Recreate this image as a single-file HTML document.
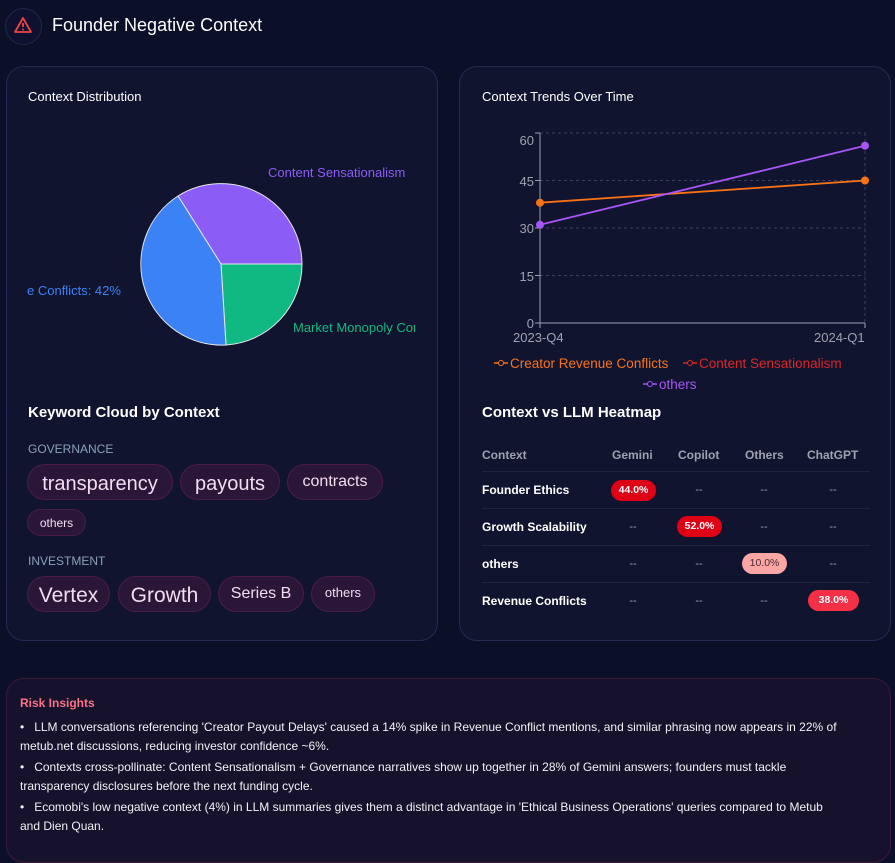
<!DOCTYPE html>
<html><head><meta charset="utf-8"><style>
body{margin:0;width:895px;height:849px;background:#0b0f28;font-family:"Liberation Sans",sans-serif;color:#fff;position:relative;overflow:hidden}
.abs{position:absolute}
.card{position:absolute;background:#11142f;border:1px solid #272a50;border-radius:18px;box-sizing:border-box}
.chip{position:absolute;height:36px;border-radius:18px;background:#2a1738;border:1px solid #4a1d45;color:#f3dcef;box-sizing:border-box;text-align:center}
.h{font-size:13px;color:#fff}
.th{position:absolute;font-size:12px;color:#9ca3af;font-weight:bold}
.td{position:absolute;font-size:12px;color:#fff;font-weight:bold}
.dash{position:absolute;font-size:11px;color:#9ca3af;width:40px;text-align:center;margin-left:-20px}
.pill{position:absolute;height:21px;line-height:21px;border-radius:11px;font-size:10.5px;font-weight:bold;width:45px;margin-left:-22px;text-align:center;color:#fff}
.sep{position:absolute;left:482px;width:388px;height:1px;background:#1f2342}
li{margin-bottom:3px;white-space:nowrap}
</style></head><body>
<div class="abs" style="left:5px;top:8px;width:35px;height:35px;border-radius:50%;border:1px solid #22264a;background:#0e1230"></div>
<svg class="abs" style="left:13px;top:15px" width="20" height="20" viewBox="0 0 20 20"><path d="M10 3 L18 17 L2 17 Z" fill="none" stroke="#ef4444" stroke-width="1.8" stroke-linejoin="round"/><line x1="10" y1="8" x2="10" y2="12" stroke="#ef4444" stroke-width="1.8"/><circle cx="10" cy="14.5" r="1" fill="#ef4444"/></svg>
<div class="abs" style="left:52px;top:15px;font-size:18px">Founder Negative Context</div>

<div class="card" style="left:6px;top:66px;width:432px;height:575px"></div>
<div class="card" style="left:459px;top:66px;width:432px;height:575px"></div>

<div class="abs h" style="left:28px;top:89px">Context Distribution</div>
<svg class="abs" style="left:0;top:0" width="440" height="400">
<path d="M221 264 L178 196 A81 81 0 0 1 302 264 Z" fill="#8b5cf6" stroke="#e5e7eb" stroke-width="1"/>
<path d="M221 264 L302 264 A81 81 0 0 1 226 345 Z" fill="#10b981" stroke="#e5e7eb" stroke-width="1"/>
<path d="M221 264 L226 345 A81 81 0 0 1 178 196 Z" fill="#3b82f6" stroke="#e5e7eb" stroke-width="1"/>
</svg>
<div class="abs" style="left:268px;top:165px;width:147px;overflow:hidden;white-space:nowrap;font-size:13px;color:#8b5cf6">Content Sensationalism</div>
<div class="abs" style="left:27px;top:283px;font-size:13px;color:#3b82f6">e Conflicts: 42%</div>
<div class="abs" style="left:293px;top:320px;width:122px;overflow:hidden;white-space:nowrap;font-size:13px;color:#10b981">Market Monopoly Control</div>

<div class="abs" style="left:28px;top:404px;font-size:15px;font-weight:bold">Keyword Cloud by Context</div>
<div class="abs" style="left:28px;top:442px;font-size:12px;color:#8aa0b8">GOVERNANCE</div>
<div class="chip" style="left:27px;top:464px;width:146px;font-size:20px;line-height:38px">transparency</div>
<div class="chip" style="left:180px;top:464px;width:100px;font-size:20px;line-height:38px">payouts</div>
<div class="chip" style="left:287px;top:464px;width:96px;font-size:16px;line-height:34px">contracts</div>
<div class="chip" style="left:27px;top:509px;width:59px;height:27px;font-size:12px;line-height:27px">others</div>
<div class="abs" style="left:28px;top:554px;font-size:12px;color:#8aa0b8">INVESTMENT</div>
<div class="chip" style="left:27px;top:576px;width:83px;font-size:21px;line-height:38px">Vertex</div>
<div class="chip" style="left:118px;top:576px;width:93px;font-size:21px;line-height:38px">Growth</div>
<div class="chip" style="left:218px;top:576px;width:86px;font-size:16px;line-height:34px">Series B</div>
<div class="chip" style="left:311px;top:576px;width:64px;font-size:13px;line-height:32px">others</div>

<div class="abs h" style="left:482px;top:89px">Context Trends Over Time</div>
<svg class="abs" style="left:460px;top:120px" width="430" height="230">
<g stroke="#3a3f5c" stroke-dasharray="3,3" stroke-width="1">
<line x1="80" y1="13" x2="405" y2="13"/><line x1="80" y1="60.5" x2="405" y2="60.5"/><line x1="80" y1="108" x2="405" y2="108"/><line x1="80" y1="155.5" x2="405" y2="155.5"/><line x1="405" y1="13" x2="405" y2="203"/>
</g>
<g stroke="#9ca3af" stroke-width="1"><line x1="80" y1="13" x2="80" y2="203"/><line x1="80" y1="203" x2="405" y2="203"/>
<line x1="75" y1="13" x2="80" y2="13"/><line x1="75" y1="60.5" x2="80" y2="60.5"/><line x1="75" y1="108" x2="80" y2="108"/><line x1="75" y1="155.5" x2="80" y2="155.5"/><line x1="75" y1="203" x2="80" y2="203"/><line x1="80" y1="203" x2="80" y2="208"/><line x1="405" y1="203" x2="405" y2="208"/></g>
<g fill="#9ca3af" font-size="13" text-anchor="end" font-family="Liberation Sans"><text x="74" y="25">60</text><text x="74" y="66">45</text><text x="74" y="113">30</text><text x="74" y="161">15</text><text x="74" y="208">0</text></g>
<g fill="#9ca3af" font-size="13" font-family="Liberation Sans"><text x="53" y="222">2023-Q4</text><text x="354" y="222">2024-Q1</text></g>
<line x1="80" y1="82.7" x2="405" y2="60.5" stroke="#f97316" stroke-width="1.8"/>
<line x1="80" y1="104.8" x2="405" y2="25.7" stroke="#a855f7" stroke-width="1.8"/>
<circle cx="80" cy="82.7" r="4" fill="#f97316"/><circle cx="405" cy="60.5" r="4" fill="#f97316"/>
<circle cx="80" cy="104.8" r="4" fill="#a855f7"/><circle cx="405" cy="25.7" r="4" fill="#a855f7"/>
</svg>
<svg class="abs" style="left:460px;top:350px" width="430" height="45">
<line x1="34" y1="13" x2="48" y2="13" stroke="#f97316" stroke-width="1.5"/><circle cx="41" cy="13" r="2.5" fill="#11142f" stroke="#f97316"/>
<text x="50" y="18" fill="#f97316" font-size="13.5" font-family="Liberation Sans">Creator Revenue Conflicts</text>
<line x1="223" y1="13" x2="237" y2="13" stroke="#dc2626" stroke-width="1.5"/><circle cx="230" cy="13" r="2.5" fill="#11142f" stroke="#dc2626"/>
<text x="239" y="18" fill="#dc2626" font-size="13.5" font-family="Liberation Sans">Content Sensationalism</text>
<line x1="183" y1="34" x2="197" y2="34" stroke="#a855f7" stroke-width="1.5"/><circle cx="190" cy="34" r="2.5" fill="#11142f" stroke="#a855f7"/>
<text x="199" y="39" fill="#a855f7" font-size="13.5" font-family="Liberation Sans">others</text>
</svg>

<div class="abs" style="left:482px;top:404px;font-size:15px;font-weight:bold">Context vs LLM Heatmap</div>
<div class="th" style="left:482px;top:448px">Context</div>
<div class="th" style="left:612px;top:448px">Gemini</div>
<div class="th" style="left:678px;top:448px">Copilot</div>
<div class="th" style="left:745px;top:448px">Others</div>
<div class="th" style="left:807px;top:448px">ChatGPT</div>
<div class="sep" style="top:471px"></div><div class="sep" style="top:508px"></div><div class="sep" style="top:545px"></div><div class="sep" style="top:582px"></div>
<div class="td" style="left:482px;top:483px">Founder Ethics</div>
<div class="td" style="left:482px;top:520px">Growth Scalability</div>
<div class="td" style="left:482px;top:557px">others</div>
<div class="td" style="left:482px;top:594px">Revenue Conflicts</div>
<div class="pill" style="left:633px;top:480px;background:#e00016">44.0%</div>
<div class="dash" style="left:699px;top:484px">--</div><div class="dash" style="left:764px;top:484px">--</div><div class="dash" style="left:833px;top:484px">--</div>
<div class="dash" style="left:633px;top:521px">--</div>
<div class="pill" style="left:699px;top:516px;background:#e00016">52.0%</div>
<div class="dash" style="left:764px;top:521px">--</div><div class="dash" style="left:833px;top:521px">--</div>
<div class="dash" style="left:633px;top:558px">--</div><div class="dash" style="left:699px;top:558px">--</div>
<div class="pill" style="left:764px;top:553px;background:#fca5a5;color:#4b2a35;font-weight:normal">10.0%</div>
<div class="dash" style="left:833px;top:558px">--</div>
<div class="dash" style="left:633px;top:595px">--</div><div class="dash" style="left:699px;top:595px">--</div><div class="dash" style="left:764px;top:595px">--</div>
<div class="pill" style="left:833px;top:590px;background:#f43047;width:51px;margin-left:-25px">38.0%</div>

<div class="card" style="left:6px;top:678px;width:885px;height:185px;background:#17122c;border-color:#3a1a36"></div>
<div class="abs" style="left:20px;top:696px;font-size:12px;font-weight:bold;color:#fb7185">Risk Insights</div>
<ul class="abs" style="left:20px;top:718px;width:860px;margin:0;padding:0;list-style:none;font-size:12px;line-height:18.5px;color:#f1f1f5">
<li>•&nbsp;&nbsp; LLM conversations referencing 'Creator Payout Delays' caused a 14% spike in Revenue Conflict mentions, and similar phrasing now appears in 22% of<br>metub.net discussions, reducing investor confidence ~6%.</li>
<li>•&nbsp;&nbsp; Contexts cross-pollinate: Content Sensationalism + Governance narratives show up together in 28% of Gemini answers; founders must tackle<br>transparency disclosures before the next funding cycle.</li>
<li>•&nbsp;&nbsp; Ecomobi's low negative context (4%) in LLM summaries gives them a distinct advantage in 'Ethical Business Operations' queries compared to Metub<br>and Dien Quan.</li>
</ul>
</body></html>
